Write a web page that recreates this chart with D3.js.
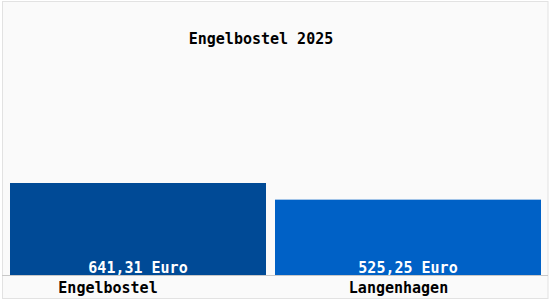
<!DOCTYPE html>
<html><head><meta charset="utf-8">
<script src="https://cdn.jsdelivr.net/npm/d3@7"></script>
<style>
html,body{margin:0;padding:0;background:#fff;}
svg{display:block;}
text{font-family:"DejaVu Sans Mono","Liberation Mono",monospace;font-size:15px;font-weight:bold;}
</style></head>
<body>
<svg id="chart" width="550" height="300"></svg>
<script>
const title = "Engelbostel 2025";
const categories = ["Engelbostel", "Langenhagen"];
const values = [641.31, 525.25];
const valueLabels = ["641,31 Euro", "525,25 Euro"];
const colors = ["#004a96", "#0061c6"];

const W = 550, H = 300;
const svg = d3.select("#chart");
svg.append("rect").attr("x", 0).attr("y", 0).attr("width", W).attr("height", H).attr("fill", "#ffffff");
svg.append("rect").attr("x", 2.5).attr("y", 1.5).attr("width", 545.5).attr("height", 297)
  .attr("fill", "#fafafa").attr("stroke", "#e2e2e2").attr("stroke-width", 1);

const baseY = 275;
const gap = 9;
// piecewise position scale: category index -> boundary pixel
const xb = d3.scaleLinear().domain([0, 1, 2]).range([10, 270.5, 541]);
const x0 = i => xb(i) + (i > 0 ? gap / 2 : 0);
const x1 = i => xb(i + 1) - (i < categories.length - 1 ? gap / 2 : 0);
const y = d3.scaleLinear().domain([0, 641.31]).range([baseY, 183]);

svg.append("g").selectAll("rect").data(categories).join("rect")
  .attr("x", (d, i) => x0(i))
  .attr("y", (d, i) => y(values[i]))
  .attr("width", (d, i) => x1(i) - x0(i))
  .attr("height", (d, i) => baseY - y(values[i]))
  .attr("fill", (d, i) => colors[i]);

svg.append("line").attr("x1", 2).attr("x2", 548).attr("y1", baseY + 0.5).attr("y2", baseY + 0.5)
  .attr("stroke", "#c8c8c8").attr("stroke-width", 1);

svg.append("g").selectAll("text").data(categories).join("text")
  .attr("x", (d, i) => (x0(i) + x1(i)) / 2)
  .attr("y", baseY - 2)
  .attr("text-anchor", "middle")
  .attr("fill", "#ffffff")
  .text((d, i) => valueLabels[i]);

const labelShift = [-30, -9.5];
svg.append("g").selectAll("text").data(categories).join("text")
  .attr("x", (d, i) => (x0(i) + x1(i)) / 2 + labelShift[i])
  .attr("y", 293)
  .attr("text-anchor", "middle")
  .attr("fill", "#000000")
  .text(d => d);

svg.append("text").attr("x", 261).attr("y", 44).attr("text-anchor", "middle")
  .attr("fill", "#000").text(title);
</script>
</body></html>
